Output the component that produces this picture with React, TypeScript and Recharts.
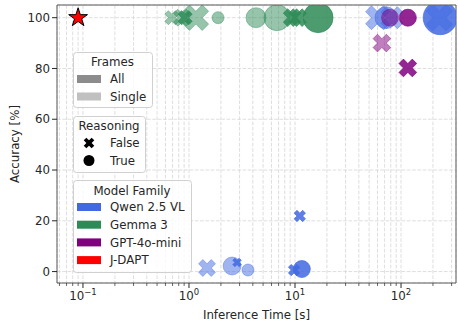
import React from 'react';
import { ScatterChart, Scatter, XAxis, YAxis, ZAxis, CartesianGrid, Label, ReferenceLine } from 'recharts';

// ---------- data ----------
// t = inference time [s], acc = accuracy [%], z = model size indicator (marker area)
const qwenSingleFalse = [
  { t: 1.48, acc: 1.4, z: 20 },
  { t: 60, acc: 100, z: 40 },
  { t: 82, acc: 100, z: 34 },
  { t: 230, acc: 100, z: 49 },
];
const qwenSingleTrue = [
  { t: 2.55, acc: 2.2, z: 20 },
  { t: 3.6, acc: 0.6, z: 9 },
  { t: 72, acc: 100, z: 30 },
];
const qwenAllFalse = [
  { t: 2.84, acc: 3.6, z: 5 },
  { t: 9.8, acc: 0.6, z: 9 },
  { t: 11.1, acc: 21.9, z: 9 },
];
const qwenAllTrue = [
  { t: 11.6, acc: 1, z: 18 },
  { t: 234, acc: 100, z: 72 },
];
const gemmaSingleFalse = [
  { t: 0.69, acc: 100, z: 14 },
  { t: 0.86, acc: 100, z: 20 },
  { t: 1.16, acc: 100, z: 46 },
];
const gemmaSingleTrue = [
  { t: 1.88, acc: 100, z: 9 },
  { t: 4.29, acc: 100, z: 25 },
  { t: 6.76, acc: 100, z: 42 },
];
const gemmaAllFalse = [
  { t: 0.92, acc: 100, z: 14 },
  { t: 9.4, acc: 100, z: 22 },
  { t: 10.6, acc: 100, z: 22 },
];
const gemmaAllTrue = [{ t: 16.5, acc: 100, z: 56 }];
const gptSingleFalse = [{ t: 66, acc: 90, z: 22 }];
const gptSingleTrue = [{ t: 78.7, acc: 100, z: 18 }];
const gptAllFalse = [{ t: 116, acc: 80.2, z: 22 }];
const gptAllTrue = [{ t: 116, acc: 100, z: 18 }];
const jdapt = [{ t: 0.09, acc: 100, z: 22 }];

const familyNames = ['Qwen 2.5 VL', 'Gemma 3', 'GPT-4o-mini', 'J-DAPT'];
const familyColors = ['#4169E1', '#2E8B57', '#800080', '#FF0000'];
const frameNames = ['All', 'Single'];
const reasoningNames = ['False', 'True'];

const xMajorTicks = [0.1, 1, 10, 100];
const xMinorTicks = [
  0.06, 0.07, 0.08, 0.09,
  0.2, 0.3, 0.4, 0.5, 0.6, 0.7, 0.8, 0.9,
  2, 3, 4, 5, 6, 7, 8, 9,
  20, 30, 40, 50, 60, 70, 80, 90,
  200, 300,
];
const yTicks = [0, 20, 40, 60, 80, 100];
const xDomain = [0.0569, 330];
const yDomain = [-4.5, 105];

// ---------- styles ----------
const FONT = '"DejaVu Sans", Verdana, sans-serif';
const FS = 11.8;
const TXT = '#262626';
const SPINE = '#5a5a5a';
const ALPHA_ALL = 0.85;
const ALPHA_SINGLE = 0.5;

const allTicks = [...xMajorTicks, ...xMinorTicks].sort((a, b) => a - b);

function xPoints(cx: number, cy: number, r: number) {
  const pts = [[-1, -3], [-1, -1], [-3, -1], [-3, 1], [-1, 1], [-1, 3], [1, 3], [1, 1], [3, 1], [3, -1], [1, -1], [1, -3]];
  const s = r / 3;
  const c = Math.SQRT1_2;
  return pts
    .map(([px, py]) => `${cx + (px - py) * c * s},${cy + (px + py) * c * s}`)
    .join(' ');
}

function starPoints(cx: number, cy: number, r: number) {
  const out: string[] = [];
  for (let i = 0; i < 10; i++) {
    const rr = i % 2 === 0 ? r : r * 0.382;
    const a = -Math.PI / 2 + (i * Math.PI) / 5;
    out.push(`${cx + rr * Math.cos(a)},${cy + rr * Math.sin(a)}`);
  }
  return out.join(' ');
}

const makeShape = (marker: string, color: string, alpha: number) => (props: any) => {
  const { cx, cy } = props;
  if (cx == null || cy == null || isNaN(cx) || isNaN(cy)) return <g />;
  const r = props.width ? props.width / 2 : 2 * Math.sqrt(props.payload?.z ?? 16);
  if (marker === 'star') {
    return <polygon points={starPoints(cx, cy, r * 1.05)} fill={color} stroke="#000" strokeWidth={1} strokeLinejoin="miter" />;
  }
  if (marker === 'x') {
    return (
      <polygon
        points={xPoints(cx, cy, r)}
        fill={color}
        fillOpacity={alpha}
        stroke={color}
        strokeOpacity={alpha}
        strokeWidth={0.8}
      />
    );
  }
  return (
    <circle cx={cx} cy={cy} r={r} fill={color} fillOpacity={alpha} stroke={color} strokeOpacity={alpha} strokeWidth={0.8} />
  );
};

const series = [
  { data: qwenSingleFalse, c: 0, m: 'x', a: ALPHA_SINGLE },
  { data: qwenSingleTrue, c: 0, m: 'o', a: ALPHA_SINGLE },
  { data: gemmaSingleFalse, c: 1, m: 'x', a: ALPHA_SINGLE },
  { data: gemmaSingleTrue, c: 1, m: 'o', a: ALPHA_SINGLE },
  { data: gptSingleFalse, c: 2, m: 'x', a: ALPHA_SINGLE },
  { data: gptSingleTrue, c: 2, m: 'o', a: ALPHA_SINGLE },
  { data: qwenAllFalse, c: 0, m: 'x', a: ALPHA_ALL },
  { data: qwenAllTrue, c: 0, m: 'o', a: ALPHA_ALL },
  { data: gemmaAllFalse, c: 1, m: 'x', a: ALPHA_ALL },
  { data: gemmaAllTrue, c: 1, m: 'o', a: ALPHA_ALL },
  { data: gptAllFalse, c: 2, m: 'x', a: ALPHA_ALL },
  { data: gptAllTrue, c: 2, m: 'o', a: ALPHA_ALL },
  { data: jdapt, c: 3, m: 'star', a: 1 },
];

const XTick = (props: any) => {
  const { x, y, payload } = props;
  const v = payload.value;
  const lg = Math.log10(v);
  const e = Math.round(lg);
  const major = Math.abs(lg - e) < 1e-6;
  return (
    <g>
      <line x1={x} x2={x} y1={y} y2={y + (major ? 5 : 3)} stroke={TXT} strokeWidth={major ? 1 : 0.7} />
      {major && (
        <text x={x} y={y + 17} textAnchor="middle" fontFamily={FONT} fontSize={FS} fill={TXT}>
          10
          <tspan dy={-5} fontSize={FS * 0.72}>{e < 0 ? '\u2212' + -e : String(e)}</tspan>
        </text>
      )}
    </g>
  );
};

const LegendBox = ({ x, y, w, h }: { x: number; y: number; w: number; h: number }) => (
  <rect x={x + 0.5} y={y + 0.5} width={w} height={h} rx={3} ry={3} fill="#ffffff" fillOpacity={0.8} stroke="#d0d0d0" strokeWidth={1} />
);

const Legends = () => {
  const tStyle = { fontFamily: FONT, fontSize: FS, fill: TXT } as any;
  const frameFill = ['#8c8c8c', '#c0c0c0'];
  return (
    <svg width={458} height={328} style={{ position: 'absolute', left: 0, top: 0, pointerEvents: 'none' }}>
      {/* Frames */}
      <LegendBox x={73} y={52} w={79} h={55} />
      <text x={112.5} y={66} textAnchor="middle" {...tStyle}>Frames</text>
      {frameNames.map((n, i) => (
        <g key={n}>
          <rect x={77} y={75 + i * 17.5} width={24} height={8} fill={frameFill[i]} />
          <text x={110} y={83.3 + i * 17.5} {...tStyle}>{n}</text>
        </g>
      ))}
      {/* Reasoning */}
      <LegendBox x={73} y={116} w={72} h={56} />
      <text x={109} y={130} textAnchor="middle" {...tStyle}>Reasoning</text>
      {reasoningNames.map((n, i) => (
        <g key={n}>
          {i === 0 ? (
            <polygon points={xPoints(89, 143, 5.6)} fill="#000" />
          ) : (
            <circle cx={89} cy={160.5} r={5.5} fill="#000" />
          )}
          <text x={110} y={147.3 + i * 17.5} {...tStyle}>{n}</text>
        </g>
      ))}
      {/* Model Family */}
      <LegendBox x={73} y={180} w={118} h={92} />
      <text x={132} y={195} textAnchor="middle" {...tStyle}>Model Family</text>
      {familyNames.map((n, i) => (
        <g key={n}>
          <rect x={77} y={203 + i * 17.7} width={24} height={8} fill={familyColors[i]} />
          <text x={110} y={211.3 + i * 17.7} {...tStyle}>{n}</text>
        </g>
      ))}
    </svg>
  );
};

export default function App() {
  return (
    <div style={{ position: 'absolute', left: 0, top: 0, width: 458, height: 328, background: '#fff' }}>
      <ScatterChart width={458} height={328} margin={{ top: 5, right: 2, bottom: 0, left: 0 }}>
        <CartesianGrid stroke="#d6d6d6" strokeDasharray="3.7 1.6" strokeWidth={0.8} />
        <XAxis
          dataKey="t"
          type="number"
          scale="log"
          domain={xDomain}
          ticks={allTicks}
          interval={0}
          tick={<XTick />}
          tickLine={false}
          tickSize={0}
          tickMargin={0}
          axisLine={{ stroke: SPINE, strokeWidth: 1 }}
          height={45}
          allowDataOverflow
        >
          <Label
            content={(p: any) => {
              const vb = p.viewBox || { x: 57, y: 283, width: 399 };
              return (
                <text x={vb.x + vb.width / 2} y={vb.y + 36} textAnchor="middle" fontFamily={FONT} fontSize={FS} fill={TXT}>
                  Inference Time [s]
                </text>
              );
            }}
          />
        </XAxis>
        <YAxis
          dataKey="acc"
          type="number"
          domain={yDomain}
          ticks={yTicks}
          interval={0}
          width={57}
          tickSize={5}
          tickMargin={2}
          tickLine={{ stroke: TXT, strokeWidth: 1 }}
          axisLine={{ stroke: SPINE, strokeWidth: 1 }}
          tick={{ fontFamily: FONT, fontSize: FS, fill: TXT }}
          allowDataOverflow
        >
          <Label
            content={(p: any) => {
              const vb = p.viewBox || { x: 0, y: 5, height: 278 };
              const cx = vb.x + 19;
              const cy = vb.y + vb.height / 2;
              return (
                <text x={cx} y={cy} transform={`rotate(-90 ${cx} ${cy})`} textAnchor="middle" fontFamily={FONT} fontSize={FS} fill={TXT}>
                  Accuracy [%]
                </text>
              );
            }}
          />
        </YAxis>
        <ZAxis dataKey="z" type="number" domain={[0, 72]} range={[0, 908]} />
        <ReferenceLine y={yDomain[1]} stroke={SPINE} strokeWidth={1} />
        <ReferenceLine x={xDomain[1]} stroke={SPINE} strokeWidth={1} />
        {series.map((s, i) => (
          <Scatter
            key={i}
            data={s.data}
            isAnimationActive={false}
            shape={makeShape(s.m, familyColors[s.c], s.a)}
          />
        ))}
      </ScatterChart>
      <Legends />
    </div>
  );
}
